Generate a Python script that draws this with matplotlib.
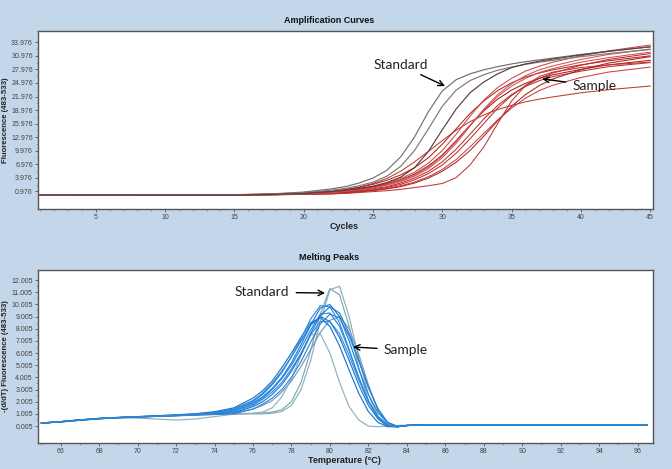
import matplotlib
matplotlib.use('Agg')
import matplotlib.pyplot as plt
import numpy as np

# ---- amplification data (cycle, fluorescence 483-533) ----
cycles = [1, 2, 3, 15, 18, 20, 22, 23, 24, 25, 26, 27, 28, 29, 30, 31, 32, 33, 34, 35, 36, 37, 38, 40, 42, 45]

amp_standard = [
    [0.15, 0.15, 0.15, 0.20, 0.45, 0.80, 1.50, 2.00, 2.80, 3.90, 5.60, 8.60, 13.0, 18.6, 23.2, 25.7, 27.0, 27.9, 28.6, 29.2, 29.7, 30.1, 30.5, 31.3, 32.0, 33.0],
    [0.15, 0.15, 0.15, 0.20, 0.40, 0.70, 1.20, 1.60, 2.20, 3.00, 4.30, 6.50, 10.0, 14.8, 19.8, 23.4, 25.5, 26.8, 27.8, 28.5, 29.1, 29.6, 30.0, 30.8, 31.5, 32.4],
    [0.15, 0.15, 0.15, 0.15, 0.30, 0.50, 0.90, 1.20, 1.60, 2.10, 2.90, 4.10, 6.20, 9.80, 14.6, 19.2, 22.8, 25.2, 27.0, 28.4, 29.2, 29.8, 30.3, 31.2, 32.0, 33.0],
]
amp_sample = [
    [0.15, 0.15, 0.15, 0.20, 0.35, 0.60, 1.00, 1.40, 1.90, 2.70, 3.80, 5.40, 7.50, 9.80, 12.2, 14.5, 16.4, 17.9, 19.1, 20.0, 20.8, 21.4, 21.9, 22.8, 23.5, 24.3],
    [0.15, 0.15, 0.15, 0.20, 0.30, 0.50, 0.90, 1.30, 1.80, 2.50, 3.40, 4.60, 6.20, 8.40, 11.4, 14.8, 18.2, 21.0, 23.3, 25.0, 26.3, 27.2, 27.9, 29.0, 29.9, 31.0],
    [0.15, 0.15, 0.15, 0.18, 0.28, 0.45, 0.80, 1.10, 1.50, 2.00, 2.80, 3.80, 5.20, 7.20, 10.0, 13.6, 17.6, 21.2, 24.0, 26.0, 27.6, 28.7, 29.6, 31.0, 32.1, 33.4],
    [0.15, 0.15, 0.15, 0.18, 0.27, 0.42, 0.70, 1.00, 1.40, 1.90, 2.60, 3.50, 4.80, 6.60, 9.00, 12.2, 15.6, 18.8, 21.4, 23.4, 24.9, 26.0, 26.8, 28.0, 29.0, 30.0],
    [0.15, 0.15, 0.15, 0.17, 0.25, 0.40, 0.60, 0.90, 1.20, 1.70, 2.30, 3.10, 4.30, 6.00, 8.40, 11.6, 15.4, 19.2, 22.4, 24.8, 26.6, 27.9, 28.8, 30.2, 31.3, 32.5],
    [0.15, 0.15, 0.15, 0.17, 0.25, 0.38, 0.60, 0.80, 1.10, 1.50, 2.00, 2.80, 3.90, 5.40, 7.50, 10.3, 13.6, 17.0, 20.0, 22.4, 24.2, 25.5, 26.4, 27.6, 28.6, 29.5],
    [0.15, 0.15, 0.15, 0.17, 0.24, 0.35, 0.50, 0.70, 1.00, 1.30, 1.80, 2.50, 3.50, 4.90, 6.80, 9.40, 12.6, 16.0, 19.4, 22.2, 24.4, 26.0, 27.2, 28.9, 30.2, 31.5],
    [0.15, 0.15, 0.15, 0.16, 0.23, 0.33, 0.50, 0.60, 0.90, 1.20, 1.60, 2.20, 3.00, 4.20, 5.80, 8.00, 10.8, 13.8, 16.8, 19.4, 21.6, 23.3, 24.5, 26.2, 27.4, 28.5],
    [0.15, 0.15, 0.15, 0.16, 0.22, 0.32, 0.40, 0.60, 0.80, 1.10, 1.50, 2.00, 2.80, 3.90, 5.40, 7.40, 10.0, 13.2, 16.6, 19.8, 22.4, 24.4, 25.9, 27.9, 29.4, 30.8],
    [0.15, 0.15, 0.15, 0.16, 0.20, 0.28, 0.40, 0.50, 0.70, 0.90, 1.10, 1.40, 1.80, 2.20, 2.70, 4.00, 6.80, 10.8, 16.0, 21.0, 24.4, 26.4, 27.4, 28.4, 29.0, 29.6],
    [0.15, 0.15, 0.15, 0.17, 0.26, 0.40, 0.65, 0.95, 1.30, 1.80, 2.45, 3.30, 4.50, 6.30, 8.80, 12.0, 15.6, 19.0, 22.0, 24.3, 26.0, 27.3, 28.2, 29.6, 30.6, 31.8],
]

# ---- melting peak data (temperature, -(d/dT) fluorescence) ----
temps = [65, 66, 67, 68, 69, 70, 71, 72, 73, 74, 75, 76, 76.5, 77, 77.5, 78, 78.5, 79, 79.5, 80, 80.5, 81, 81.5, 82, 82.5, 83, 83.5, 84, 85, 96.5]

melt_blue = [
    [0.25, 0.36, 0.50, 0.62, 0.70, 0.76, 0.82, 0.88, 0.95, 1.05, 1.30, 1.90, 2.40, 3.10, 4.00, 5.20, 6.70, 8.30, 9.70, 10.0, 9.00, 7.00, 4.70, 2.60, 1.10, 0.30, 0.00, 0.05, 0.10, 0.10],
    [0.24, 0.34, 0.48, 0.60, 0.69, 0.75, 0.80, 0.86, 0.93, 1.02, 1.25, 1.80, 2.30, 3.00, 3.90, 5.00, 6.40, 7.90, 9.20, 9.30, 8.20, 6.20, 4.00, 2.10, 0.80, 0.10, -0.05, 0.05, 0.10, 0.10],
    [0.26, 0.37, 0.52, 0.64, 0.72, 0.78, 0.84, 0.91, 0.99, 1.12, 1.40, 2.10, 2.70, 3.50, 4.50, 5.70, 7.00, 8.30, 9.00, 8.60, 7.30, 5.40, 3.40, 1.70, 0.60, 0.00, -0.05, 0.05, 0.10, 0.10],
    [0.25, 0.35, 0.49, 0.61, 0.69, 0.75, 0.81, 0.87, 0.94, 1.03, 1.20, 1.70, 2.20, 2.80, 3.60, 4.70, 6.00, 7.50, 8.60, 8.60, 7.60, 5.80, 3.80, 2.00, 0.80, 0.10, -0.05, 0.05, 0.10, 0.10],
    [0.24, 0.35, 0.50, 0.62, 0.70, 0.76, 0.82, 0.88, 0.94, 1.00, 1.10, 1.60, 2.00, 2.60, 3.40, 4.50, 5.90, 7.60, 9.10, 9.80, 9.30, 7.60, 5.40, 3.20, 1.40, 0.30, -0.05, 0.05, 0.10, 0.10],
    [0.25, 0.36, 0.50, 0.62, 0.70, 0.76, 0.81, 0.86, 0.92, 0.97, 1.00, 1.40, 1.80, 2.30, 3.00, 4.00, 5.30, 6.90, 8.40, 9.20, 8.90, 7.40, 5.40, 3.20, 1.40, 0.30, -0.05, 0.05, 0.10, 0.10],
    [0.26, 0.37, 0.51, 0.63, 0.71, 0.78, 0.85, 0.93, 1.02, 1.18, 1.50, 2.30, 2.90, 3.70, 4.80, 6.00, 7.30, 8.50, 8.90, 8.20, 6.60, 4.60, 2.70, 1.20, 0.30, -0.05, -0.05, 0.05, 0.10, 0.10],
    [0.25, 0.36, 0.50, 0.62, 0.70, 0.77, 0.83, 0.90, 0.97, 1.08, 1.30, 2.00, 2.60, 3.40, 4.40, 5.70, 7.20, 8.80, 9.90, 9.80, 8.50, 6.30, 4.00, 2.00, 0.70, 0.05, -0.05, 0.05, 0.10, 0.10],
]
melt_gray = [
    [0.25, 0.35, 0.49, 0.61, 0.69, 0.75, 0.80, 0.85, 0.90, 0.95, 1.00, 1.00, 1.00, 1.05, 1.20, 1.70, 3.00, 5.40, 8.60, 11.2, 11.5, 9.00, 5.60, 2.60, 0.80, 0.10, -0.05, 0.05, 0.10, 0.10],
    [0.25, 0.35, 0.49, 0.61, 0.69, 0.75, 0.80, 0.85, 0.90, 0.96, 1.02, 1.05, 1.08, 1.15, 1.35, 2.00, 3.60, 6.20, 9.20, 11.3, 10.8, 8.20, 4.80, 2.10, 0.60, 0.00, -0.05, 0.05, 0.10, 0.10],
    [0.25, 0.35, 0.48, 0.60, 0.66, 0.66, 0.58, 0.50, 0.58, 0.78, 0.98, 1.05, 1.15, 1.50, 2.40, 3.90, 5.80, 7.50, 7.60, 6.00, 3.60, 1.60, 0.50, 0.00, -0.05, 0.00, 0.05, 0.08, 0.10, 0.10],
    [0.25, 0.35, 0.49, 0.61, 0.69, 0.75, 0.81, 0.87, 0.93, 1.00, 1.10, 1.40, 1.70, 2.10, 2.80, 3.70, 4.90, 6.30, 7.70, 8.70, 9.00, 8.00, 5.90, 3.40, 1.30, 0.20, -0.05, 0.05, 0.10, 0.10],
]

amp_yticks = [0.976 + 3 * k for k in range(12)]
melt_yticks = [0.005 + k for k in range(13)]

bg = '#c4d6e9'
tick_font = ['Liberation Sans', 'DejaVu Sans']
bold_font = ['Liberation Sans', 'DejaVu Sans']
note_font = ['Lato', 'DejaVu Sans']


def style_axes(ax, yticks, ylabel):
    for s in ax.spines.values():
        s.set_color('#555555')
        s.set_linewidth(1.0)
    ax.set_yticks(yticks)
    ax.set_yticklabels(['%.3f' % v for v in yticks])
    ax.tick_params(axis='both', which='major', length=2.5, width=0.6, color='#555555',
                   labelsize=5, labelcolor='#444444', pad=1.2)
    ax.tick_params(axis='both', which='minor', length=1.3, width=0.5, color='#888888')
    for lab in ax.get_xticklabels() + ax.get_yticklabels():
        lab.set_family(tick_font)
    ax.set_ylabel(ylabel, fontsize=5.6, fontweight='bold', family=bold_font, color='#222222')
    ax.yaxis.set_label_coords(-0.047, 0.5)


fig = plt.figure(figsize=(6.72, 4.69), dpi=100, facecolor=bg)

# ---- top: amplification curves ----
ax1 = fig.add_axes([0.0565, 0.5544, 0.9152, 0.3795])
std_colors = ['#707070', '#7a7a7a', '#5e3c3c']
red_colors = ['#c0392b', '#b22222', '#c94a4a', '#a51c1c', '#d05555', '#b83030', '#c22a2a', '#cc4040', '#a82424', '#c03535', '#d44c4c']
for i in range(len(amp_sample)):
    ax1.plot(cycles, amp_sample[i], color=red_colors[i], lw=0.75)
for i in range(len(amp_standard)):
    ax1.plot(cycles, amp_standard[i], color=std_colors[i], lw=0.85)
ax1.set_xlim(0.84, 45.2)
ax1.set_ylim(-2.95, 36.5)
ax1.set_xticks([5, 10, 15, 20, 25, 30, 35, 40, 45])
ax1.set_xticks(np.arange(1, 46, 1), minor=True)
ax1.set_yticks([0.976 + 1.5 + 3 * k for k in range(11)], minor=True)
style_axes(ax1, amp_yticks, 'Fluorescence (483-533)')
ax1.annotate('Standard', xy=(30.2, 24.3), xytext=(27.0, 28.9), ha='center', va='center',
             fontsize=9.9, family=note_font, color='#222222',
             arrowprops=dict(arrowstyle='->', color='black', lw=1.0, shrinkA=1, shrinkB=0))
ax1.annotate('Sample', xy=(37.2, 25.9), xytext=(41.0, 24.3), ha='center', va='center',
             fontsize=9.9, family=note_font, color='#222222',
             arrowprops=dict(arrowstyle='->', color='black', lw=1.0, shrinkA=3, shrinkB=0))
fig.text(0.49, 0.957, 'Amplification Curves', ha='center', va='center', fontsize=6.5,
         fontweight='bold', family=bold_font, color='#111111')
fig.text(0.512, 0.518, 'Cycles', ha='center', va='center', fontsize=6.5,
         fontweight='bold', family=bold_font, color='#222222')

# ---- bottom: melting peaks ----
ax2 = fig.add_axes([0.0565, 0.0554, 0.9152, 0.3689])
blue_colors = ['#1f7fd8', '#2a88dc', '#1877d0', '#3390e0', '#1c7ad4', '#2b86d6', '#1a74cc', '#2f8ada']
gray_colors = ['#8aaebe', '#7fa4b4', '#8fb1bf', '#6f9cc0']
for i in range(len(melt_gray)):
    ax2.plot(temps, melt_gray[i], color=gray_colors[i], lw=0.85)
for i in range(len(melt_blue)):
    ax2.plot(temps, melt_blue[i], color=blue_colors[i], lw=0.85)
ax2.set_xlim(64.82, 96.8)
ax2.set_ylim(-1.39, 12.83)
ax2.set_xticks(np.arange(66, 97, 2))
ax2.set_xticks(np.arange(65, 97, 1), minor=True)
ax2.set_yticks([0.505 + k for k in range(12)], minor=True)
style_axes(ax2, melt_yticks, '-(d/dT) Fluorescence (483-533)')
ax2.annotate('Standard', xy=(79.75, 10.94), xytext=(76.47, 11.0), ha='center', va='center',
             fontsize=9.9, family=note_font, color='#222222',
             arrowprops=dict(arrowstyle='->', color='black', lw=1.0, shrinkA=3, shrinkB=0))
ax2.annotate('Sample', xy=(81.2, 6.5), xytext=(83.96, 6.26), ha='center', va='center',
             fontsize=9.9, family=note_font, color='#222222',
             arrowprops=dict(arrowstyle='->', color='black', lw=1.0, shrinkA=3, shrinkB=0))
fig.text(0.49, 0.45, 'Melting Peaks', ha='center', va='center', fontsize=6.5,
         fontweight='bold', family=bold_font, color='#111111')
fig.text(0.513, 0.019, 'Temperature (\u00b0C)', ha='center', va='center', fontsize=6.5,
         fontweight='bold', family=bold_font, color='#222222')

fig.savefig('out.png', dpi=100, facecolor=bg)
